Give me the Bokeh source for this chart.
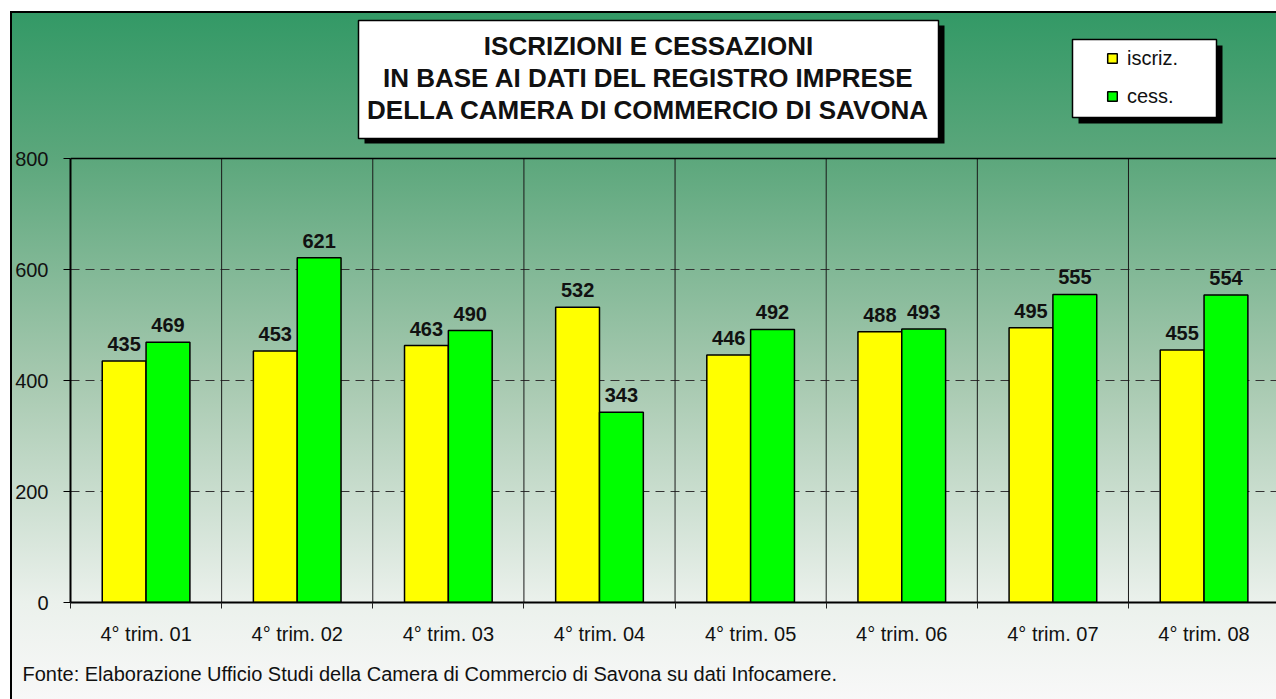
from bokeh.plotting import figure
from bokeh.models import (ColumnDataSource, FixedTicker, Range1d, BoxAnnotation,
                          Label, Legend, LegendItem, Span, Title)
from bokeh.transform import dodge
from bokeh.core.properties import value
from bokeh.embed import file_html
from bokeh.resources import INLINE

# ---------------- data ----------------
categories = ["4° trim. 01", "4° trim. 02", "4° trim. 03", "4° trim. 04",
              "4° trim. 05", "4° trim. 06", "4° trim. 07", "4° trim. 08"]
iscriz = [435, 453, 463, 532, 446, 488, 495, 455]
cess = [469, 621, 490, 343, 492, 493, 555, 554]
series_names = ["iscriz.", "cess."]
y_ticks = [0, 200, 400, 600, 800]
title_lines = ["ISCRIZIONI E CESSAZIONI",
               "IN BASE AI DATI DEL REGISTRO IMPRESE",
               "DELLA CAMERA DI COMMERCIO DI SAVONA"]
footnote = "Fonte: Elaborazione Ufficio Studi della Camera di Commercio di Savona su dati Infocamere."

# ---------------- layout helpers (reference pixel -> data) ----------------
FONT = "Liberation Sans"
W, H = 1276, 699
FRAME_L, FRAME_B = 70, 602
CAT_PX = 151.14
Y_PX = 444.0 / 800.0


def dx(xr):
    return (xr - FRAME_L) / CAT_PX


def dy(yr):
    return (FRAME_B - yr) / Y_PX


x_end = dx(W)
y_end = dy(0)

p = figure(width=W, height=H, title=None,
           x_range=Range1d(0, x_end), y_range=Range1d(0, y_end),
           output_backend="svg", toolbar_location=None,
           min_border_left=FRAME_L, min_border_right=0,
           min_border_top=0, min_border_bottom=H - FRAME_B)
p.background_fill_color = None
p.border_fill_color = None
p.outline_line_color = None

# gradient background and outer frame line via CSS on the figure element
p.styles = {
    "background-image": ("linear-gradient(#000,#000), linear-gradient(#000,#000), "
                         "linear-gradient(to bottom, #339966 0px, #5ca77c 146px, "
                         "#a7c9b0 368px, #ebf1ec 590px, #f8f8f8 687px)"),
    "background-position": "10px 11px, 10px 11px, 12px 13px",
    "background-size": "2px 100%, 100% 2px, 100% 100%",
    "background-repeat": "no-repeat",
}

n = len(categories)
centers = [i + 0.5 for i in range(n)]
bounds_x = list(range(n + 1))

# ---------------- axes ----------------
xax = p.xaxis[0]
xax.ticker = FixedTicker(ticks=centers, minor_ticks=bounds_x)
xax.major_label_overrides = {c: lab for c, lab in zip(centers, categories)}
xax.major_tick_out = 0
xax.major_tick_in = 0
xax.minor_tick_out = 6
xax.minor_tick_in = 0
xax.minor_tick_line_color = "#222222"
xax.axis_line_color = "black"
xax.axis_line_width = 2
xax.major_label_standoff = 14
xax.major_label_text_font = FONT
xax.major_label_text_font_size = "20px"
xax.major_label_text_color = "#111111"

yax = p.yaxis[0]
yax.ticker = FixedTicker(ticks=y_ticks)
yax.bounds = (y_ticks[0], y_ticks[-1])
yax.major_tick_out = 7
yax.major_tick_in = 0
yax.minor_tick_out = 0
yax.minor_tick_in = 0
yax.major_tick_line_color = "black"
yax.axis_line_color = "black"
yax.axis_line_width = 2
yax.major_label_standoff = 15
yax.major_label_text_font = FONT
yax.major_label_text_font_size = "20px"
yax.major_label_text_color = "#111111"

p.xgrid.visible = False
p.ygrid.ticker = FixedTicker(ticks=y_ticks[1:-1])
p.ygrid.grid_line_color = "#333333"
p.ygrid.grid_line_dash = "9 6"
p.ygrid.grid_line_width = 1

p.add_layout(Span(location=y_ticks[-1], dimension="width", line_color="black", line_width=1.5))
p.segment(x0=bounds_x[1:], y0=y_ticks[0], x1=bounds_x[1:], y1=y_ticks[-1],
          line_color="#1a1a1a", line_width=1)

# ---------------- bars ----------------
src = ColumnDataSource(dict(
    x=centers, cat=categories, iscriz=iscriz, cess=cess,
    iscriz_lbl=[str(v) for v in iscriz], cess_lbl=[str(v) for v in cess]))

BW = 0.29
OFF = 0.145
r1 = p.vbar(x=dodge("x", -OFF), top="iscriz", width=BW, source=src,
            fill_color="#ffff00", line_color="black", line_width=1.5)
r2 = p.vbar(x=dodge("x", OFF), top="cess", width=BW, source=src,
            fill_color="#00ff00", line_color="black", line_width=1.5)

for xo, col in [(-OFF, "iscriz"), (OFF, "cess")]:
    p.text(x=dodge("x", xo), y=col, text=col + "_lbl", source=src,
           text_font=value(FONT), text_font_style="bold", text_font_size="20px",
           text_align="center", text_baseline="alphabetic", y_offset=-17,
           text_color="#111111")

# ---------------- title box ----------------
p.add_layout(BoxAnnotation(left=dx(364), right=dx(944), top=dy(25), bottom=dy(143),
                           fill_color="black", fill_alpha=1, line_alpha=0))
p.add_layout(BoxAnnotation(left=dx(358), right=dx(938), top=dy(20), bottom=dy(138),
                           fill_color="white", fill_alpha=1, line_color="black",
                           line_alpha=1, line_width=1.5))
for line, yc in zip(title_lines, [45.5, 77.5, 109]):
    p.add_layout(Label(x=dx(648), y=dy(yc), text=line, text_font=FONT,
                       text_font_style="bold", text_font_size="26px",
                       text_align="center", text_baseline="middle",
                       text_color="#111111"))

# ---------------- legend ----------------
p.add_layout(BoxAnnotation(left=dx(1078), right=dx(1222), top=dy(45), bottom=dy(123),
                           fill_color="black", fill_alpha=1, line_alpha=0))
p.add_layout(BoxAnnotation(left=dx(1072), right=dx(1216), top=dy(39), bottom=dy(117),
                           fill_color="white", fill_alpha=1, line_color="black",
                           line_alpha=1, line_width=1.5))
legend = Legend(items=[LegendItem(label=series_names[0], renderers=[r1]),
                       LegendItem(label=series_names[1], renderers=[r2])],
                location=(1106 - FRAME_L, FRAME_B - 108),
                label_text_font=FONT, label_text_font_size="20px",
                label_text_color="#111111",
                glyph_width=12, glyph_height=12, label_standoff=9,
                label_height=24, spacing=14, padding=6, margin=0,
                background_fill_alpha=0, border_line_color=None)
p.add_layout(legend)

# ---------------- footnote ----------------
p.add_layout(Title(text=footnote, align="left", offset=22 - FRAME_L,
                   vertical_align="bottom", standoff=26,
                   text_font=FONT, text_font_size="20px", text_font_style="normal",
                   text_color="#111111"), "below")

open("out.html", "w").write(file_html(p, INLINE, title="Iscrizioni e cessazioni"))
